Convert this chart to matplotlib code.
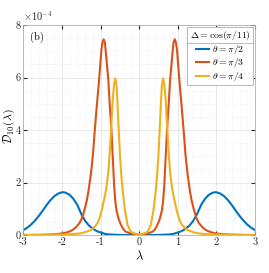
import numpy as np
import matplotlib
matplotlib.use("Agg")
import matplotlib.pyplot as plt
from matplotlib.lines import Line2D
from matplotlib.ticker import MultipleLocator

plt.rcParams["font.family"] = "serif"
plt.rcParams["font.serif"] = ["cmr10"]
plt.rcParams["mathtext.fontset"] = "cm"
plt.rcParams["axes.unicode_minus"] = False

# values, left half (lambda <= 0); the curves are mirror symmetric
lam_blue = [-3.0, -2.9, -2.8, -2.7, -2.6, -2.5, -2.4, -2.3, -2.2, -2.1, -2.0, -1.95,
            -1.9, -1.8, -1.7, -1.6, -1.5, -1.4, -1.3, -1.2, -1.1, -1.0, -0.9, -0.8,
            -0.6, -0.4, 0.0]
d_blue = [0.19, 0.28, 0.40, 0.55, 0.73, 0.93, 1.14, 1.33, 1.48, 1.58, 1.63, 1.63,
          1.61, 1.53, 1.37, 1.14, 0.80, 0.54, 0.36, 0.24, 0.15, 0.10, 0.05, 0.025,
          0.01, 0.0, 0.0]

lam_red = [-3.0, -2.5, -2.2, -2.0, -1.9, -1.8, -1.73, -1.65, -1.55, -1.48, -1.42,
           -1.36, -1.31, -1.25, -1.2, -1.15, -1.1, -1.04, -0.98, -0.95, -0.92, -0.89,
           -0.87, -0.8, -0.76, -0.72, -0.68, -0.65, -0.62, -0.59, -0.53, -0.47, -0.41,
           -0.35, -0.22, -0.1, 0.0]
d_red = [0.0, 0.01, 0.03, 0.06, 0.09, 0.14, 0.19, 0.28, 0.45, 0.65, 0.95,
         1.3, 1.71, 2.35, 3.05, 4.0, 4.9, 5.9, 7.05, 7.35, 7.46, 7.35,
         7.05, 5.9, 4.9, 4.0, 2.8, 1.9, 1.3, 0.95, 0.6, 0.38, 0.22,
         0.13, 0.06, 0.04, 0.03]

lam_yel = [-3.0, -2.5, -2.0, -1.8, -1.55, -1.4, -1.25, -1.15, -1.08, -1.02, -0.97,
           -0.91, -0.86, -0.8, -0.76, -0.73, -0.68, -0.65, -0.62, -0.59, -0.57,
           -0.53, -0.5, -0.47, -0.43, -0.37, -0.3, -0.22, -0.13, 0.0]
d_yel = [0.0, 0.01, 0.02, 0.03, 0.06, 0.11, 0.19, 0.32, 0.45, 0.68, 0.95,
         1.35, 1.71, 2.4, 3.2, 4.0, 5.27, 5.75, 5.97, 5.75, 5.27,
         4.0, 3.1, 2.4, 1.71, 0.95, 0.38, 0.13, 0.06, 0.03]

labels = [r"$\theta=\pi/2$", r"$\theta=\pi/3$", r"$\theta=\pi/4$"]
colors = ["#0072BD", "#D95319", "#EDB120"]
xtick_labels = ["-3", "-2", "-1", "0", "1", "2", "3"]
ytick_labels = ["0", "2", "4", "6", "8"]


def mirror(lam, d):
    lam = np.asarray(lam)
    d = np.asarray(d)
    return np.concatenate([lam, -lam[::-1][1:]]), np.concatenate([d, d[::-1][1:]])


fig = plt.figure(figsize=(2.69, 2.73), dpi=100)
ax = fig.add_axes([0.087, 0.139, 0.861, 0.769])

for (lam, d), lab, col in zip(
    [(lam_blue, d_blue), (lam_red, d_red), (lam_yel, d_yel)], labels, colors
):
    x, y = mirror(lam, d)
    ax.plot(x, y, color=col, lw=1.5, label=lab)

ax.set_xlim(-3, 3)
ax.set_ylim(0, 8)
ax.set_xticks(range(-3, 4))
ax.set_xticklabels(xtick_labels)
ax.set_yticks([0, 2, 4, 6, 8])
ax.set_yticklabels(ytick_labels)
ax.xaxis.set_minor_locator(MultipleLocator(0.2))
ax.yaxis.set_minor_locator(MultipleLocator(0.5))
ax.grid(True, which="major", color="#e0e0e0", lw=0.5)
ax.grid(True, which="minor", color="#e6e6e6", lw=0.5, ls=(0, (1, 2)))
ax.set_axisbelow(True)
ax.tick_params(which="both", direction="in", top=True, right=True,
               labelsize=7.5, colors="#262626", length=3, pad=2)
ax.tick_params(which="minor", length=0)
for s in ax.spines.values():
    s.set_color("#b0b0b0")
    s.set_linewidth(0.6)

ax.set_xlabel(r"$\lambda$", fontsize=9, labelpad=2)
ax.set_ylabel(r"$\mathcal{D}_{10}(\lambda)$", fontsize=8.5)
ax.yaxis.set_label_coords(-0.028, 0.52)
ax.text(0.0, 1.01, r"$\times10^{-4}$", transform=ax.transAxes, fontsize=7.5,
        ha="left", va="bottom", color="#262626")
ax.text(0.03, 0.94, "(b)", transform=ax.transAxes, fontsize=7.5, va="center")

leg = ax.legend(loc="upper right", fontsize=7, title=r"$\Delta=\cos(\pi/11)$",
                title_fontsize=7, fancybox=False, edgecolor="#b0b0b0",
                framealpha=1, handlelength=1.4, handletextpad=0.3,
                borderpad=0.25, labelspacing=0.05, borderaxespad=0.2)
leg.get_frame().set_linewidth(0.6)

fig.canvas.draw()
fb = leg.get_frame().get_window_extent()
tb = leg.get_title().get_window_extent()
yline = tb.y0 - 1.0
fig.add_artist(Line2D([fb.x0, fb.x1], [yline, yline], transform=None,
                      color="#b0b0b0", lw=0.6))

fig.savefig("out.png", dpi=100)
